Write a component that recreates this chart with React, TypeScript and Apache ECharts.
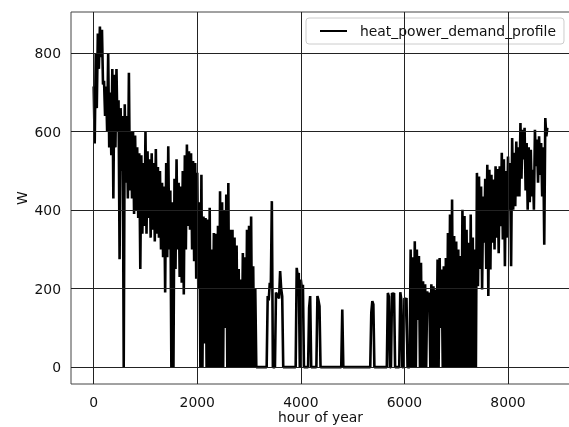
import React, { useEffect, useRef } from "react";
import * as echarts from "echarts";

// Each window covers 40 hours: the high value is read at the window start,
// the low value half a window later (values in W).
const windowHours = 40;

const highs = [
  715, 800, 850, 868, 860, 730, 715, 800, 700, 760,
  745, 760, 680, 660, 640, 670, 640, 750, 600, 600,
  590, 560, 545, 540, 520, 600, 550, 530, 545, 520,
  556, 510, 500, 470, 460, 520, 563, 450, 420, 480,
  530, 470, 460, 500, 540, 567, 550, 545, 525, 520,
  495, 420, 490, 384, 380, 376, 406, 300, 342, 340,
  360, 448, 420, 400, 440, 469, 350, 350, 330, 310,
  250, 223, 291, 280, 350, 360, 384, 257, 200, 0,
  0, 0, 0, 0, 181, 215, 423, 0, 190, 180,
  245, 180, 0, 0, 0, 0, 0, 0, 253, 240,
  223, 210, 0, 0, 151, 0, 0, 0, 181, 155,
  0, 0, 0, 0, 0, 0, 0, 0, 0, 0,
  147, 0, 0, 0, 0, 0, 0, 0, 0, 0,
  0, 0, 0, 0, 138, 160, 0, 0, 0, 0,
  0, 0, 189, 0, 189, 189, 0, 0, 191, 0,
  176, 176, 0, 300, 280, 321, 300, 283, 266, 219,
  211, 193, 190, 211, 206, 198, 274, 278, 249, 257,
  278, 342, 389, 427, 334, 320, 300, 283, 401, 385,
  350, 317, 389, 330, 300, 495, 486, 460, 435, 480,
  516, 503, 490, 478, 512, 505, 512, 546, 530, 500,
  537, 520, 584, 546, 575, 560, 622, 605, 610, 571,
  560, 554, 503, 605, 580, 588, 571, 560, 635,
];

const lows = [
  570, 660, 760, 790, 720, 640, 600, 560, 540, 430,
  560, 600, 275, 500, 0, 470, 430, 450, 430, 390,
  400, 380, 250, 340, 360, 340, 380, 330, 350, 320,
  340, 330, 300, 280, 190, 280, 300, 0, 0, 250,
  300, 230, 215, 185, 300, 360, 350, 300, 270, 225,
  200, 0, 0, 60, 0, 0, 0, 0, 0, 0,
  0, 0, 0, 100, 0, 0, 0, 0, 0, 0,
  0, 0, 0, 0, 0, 0, 0, 0, 0, 0,
  0, 0, 0, 0, 170, 200, 0, 0, 185, 175,
  200, 0, 0, 0, 0, 0, 0, 0, 230, 0,
  200, 0, 0, 0, 181, 0, 0, 0, 170, 0,
  0, 0, 0, 0, 0, 0, 0, 0, 0, 0,
  0, 0, 0, 0, 0, 0, 0, 0, 0, 0,
  0, 0, 0, 0, 168, 0, 0, 0, 0, 0,
  0, 0, 180, 0, 185, 0, 0, 0, 172, 0,
  170, 0, 0, 0, 0, 0, 120, 0, 0, 0,
  0, 151, 0, 0, 0, 0, 0, 100, 0, 0,
  0, 0, 0, 0, 0, 0, 0, 0, 0, 0,
  0, 0, 0, 0, 0, 206, 250, 198, 317, 250,
  181, 249, 317, 300, 330, 290, 359, 325, 257, 330,
  401, 257, 401, 410, 435, 435, 480, 529, 450, 401,
  420, 435, 401, 512, 470, 490, 435, 312, 588,
];

const lastHour = 8759;
const lastValue = 610;

const xTicks = [0, 2000, 4000, 6000, 8000];
const yTicks = [0, 200, 400, 600, 800];
const seriesName = "heat_power_demand_profile";
const xName = "hour of year";
const yName = "W";

export default function App() {
  const ref = useRef<HTMLDivElement>(null);

  useEffect(() => {
    if (!ref.current) return;
    const chart = echarts.init(ref.current, null, { renderer: "svg" });
    const data: number[][] = [];
    highs.forEach((h, i) => {
      data.push([i * windowHours, h]);
      data.push([i * windowHours + windowHours / 2, lows[i]]);
    });
    data.push([lastHour, lastValue]);

    const font = "DejaVu Sans";
    const textColor = "#111";
    const spine = "#444";

    chart.setOption({
      animation: false,
      grid: {
        left: 71,
        top: 12,
        width: 499,
        height: 372,
        outerBoundsMode: "none",
        containLabel: false,
        show: true,
        borderColor: spine,
        borderWidth: 1,
        backgroundColor: "#fff",
      },
      legend: {
        data: [seriesName],
        left: 306,
        top: 18,
        padding: [6, 8, 6, 14],
        backgroundColor: "rgba(255,255,255,0.85)",
        borderColor: "#ccc",
        borderWidth: 1,
        borderRadius: 3,
        icon: "rect",
        itemWidth: 27,
        itemHeight: 2,
        textStyle: {
          fontFamily: font,
          fontSize: 13.9,
          color: textColor,
          padding: [0, 0, 0, 8],
        },
      },
      xAxis: {
        type: "value",
        min: -438,
        max: 9197,
        axisLine: { show: false },
        splitLine: { show: false },
        axisTick: {
          show: true,
          customValues: xTicks,
          length: 5,
          lineStyle: { color: spine, width: 1 },
        },
        axisLabel: {
          customValues: xTicks,
          formatter: (v: number) => String(v),
          fontFamily: font,
          fontSize: 13.9,
          color: textColor,
          margin: 11,
        },
        name: xName,
        nameLocation: "middle",
        nameGap: 26,
        nameMoveOverlap: false,
        nameTextStyle: { fontFamily: font, fontSize: 13.9, color: textColor },
      },
      yAxis: {
        type: "value",
        min: -43,
        max: 905,
        axisLine: { show: false },
        splitLine: { show: false },
        axisTick: {
          show: true,
          customValues: yTicks,
          length: 5,
          lineStyle: { color: spine, width: 1 },
        },
        axisLabel: {
          customValues: yTicks,
          formatter: (v: number) => String(v),
          fontFamily: font,
          fontSize: 13.9,
          color: textColor,
          margin: 10,
        },
        name: yName,
        nameLocation: "middle",
        nameGap: 42,
        nameRotate: 90,
        nameMoveOverlap: false,
        nameTextStyle: { fontFamily: font, fontSize: 13.9, color: textColor },
      },
      series: [
        {
          type: "line",
          name: seriesName,
          data,
          showSymbol: false,
          symbol: "none",
          clip: true,
          lineStyle: { color: "#000", width: 2.6 },
          itemStyle: { color: "#000" },
          emphasis: { disabled: true },
          markLine: {
            silent: true,
            symbol: ["none", "none"],
            label: { show: false },
            emphasis: { disabled: true },
            lineStyle: { color: "#222", width: 1, type: "solid" },
            data: [
              ...xTicks.map((v) => ({ xAxis: v })),
              ...yTicks.map((v) => ({ yAxis: v })),
            ],
          },
        },
      ],
    });

    return () => chart.dispose();
  }, []);

  return (
    <div
      ref={ref}
      style={{ position: "fixed", left: 0, top: 0, width: 569, height: 427 }}
    />
  );
}
